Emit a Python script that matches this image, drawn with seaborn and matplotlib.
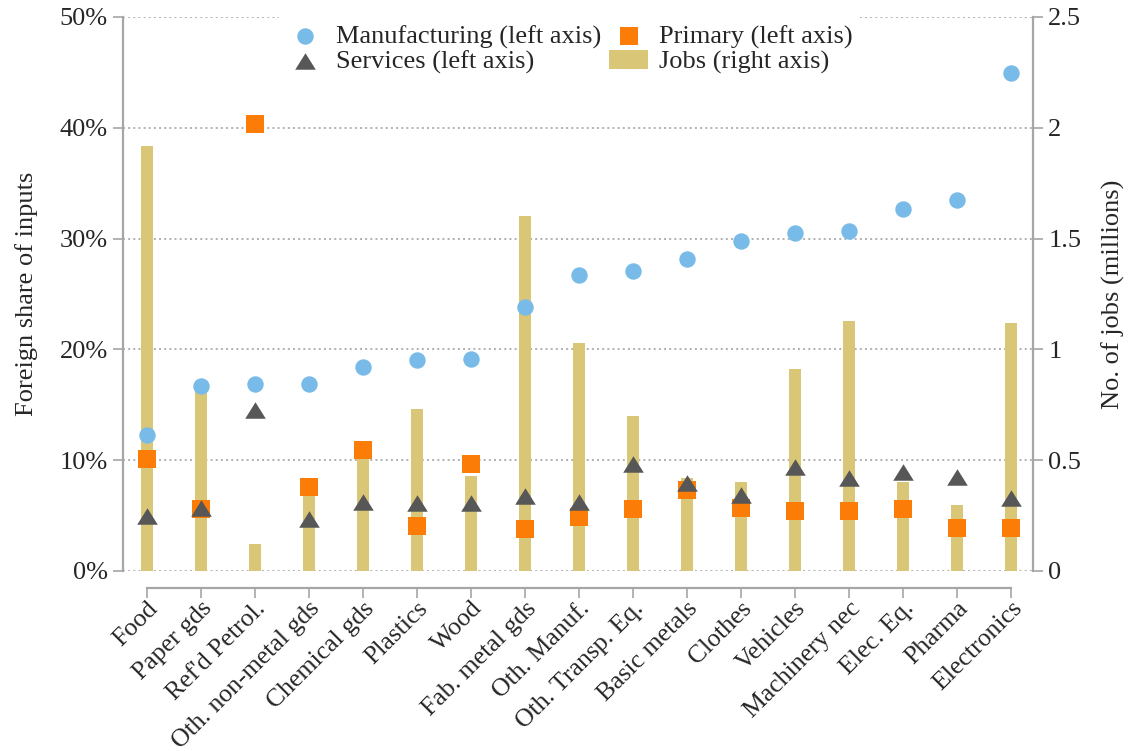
import pandas as pd
import seaborn as sns
import matplotlib.pyplot as plt
from matplotlib.patches import Patch

# sectors, ordered by manufacturing share
sectors = ["Food", "Paper gds", "Ref'd Petrol.", "Oth. non-metal gds", "Chemical gds",
           "Plastics", "Wood", "Fab. metal gds", "Oth. Manuf.", "Oth. Transp. Eq.",
           "Basic metals", "Clothes", "Vehicles", "Machinery nec", "Elec. Eq.",
           "Pharma", "Electronics"]

# foreign share of inputs (%), left axis
manufacturing = [12.3, 16.7, 16.9, 16.9, 18.4, 19.0, 19.1, 23.8, 26.7, 27.1,
                 28.2, 29.8, 30.5, 30.7, 32.7, 33.5, 44.9]
primary = [10.1, 5.6, 40.3, 7.6, 10.9, 4.1, 9.7, 3.8, 4.9, 5.6,
           7.3, 5.7, 5.4, 5.4, 5.6, 3.9, 3.9]
services = [5.0, 5.7, 14.5, 4.7, 6.2, 6.1, 6.1, 6.8, 6.2, 9.7,
            7.9, 6.9, 9.4, 8.4, 8.9, 8.5, 6.6]

# number of jobs (millions), right axis
jobs = [1.92, 0.82, 0.12, 0.42, 0.53, 0.73, 0.43, 1.60, 1.03, 0.70,
        0.42, 0.40, 0.91, 1.13, 0.40, 0.30, 1.12]

left_ticks = [0, 10, 20, 30, 40, 50]
left_labels = ["0%", "10%", "20%", "30%", "40%", "50%"]
right_ticks = [0, 0.5, 1, 1.5, 2, 2.5]
right_labels = ["0", "0.5", "1", "1.5", "2", "2.5"]

df = pd.DataFrame({"sector": sectors, "manuf": manufacturing, "primary": primary,
                   "services": services, "jobs": jobs})

sns.set_style("ticks")
plt.rcParams["font.family"] = ["Liberation Serif", "DejaVu Serif"]
plt.rcParams["font.size"] = 19

col_bar = "#d9c677"
col_blue = "#79bbe8"
col_orange = "#fb7d07"
col_tri = "#575757"
col_axis = "#a6a6a6"

fig = plt.figure(figsize=(11.29, 7.51), dpi=100)
ax = fig.add_axes([0.109, 0.2397, 0.806, 0.7377])
ax2 = ax.twinx()
ax.set_zorder(2)
ax2.set_zorder(1)
ax.patch.set_visible(False)

# jobs bars on the right axis
sns.barplot(data=df, x="sector", y="jobs", ax=ax2, color=col_bar, width=0.22,
            saturation=1, errorbar=None, linewidth=0)

# foreign shares on the left axis
tri = [(-1.25, -1), (1.25, -1), (0, 1)]
sns.scatterplot(data=df, x="sector", y="manuf", ax=ax, color=col_blue, marker="o",
                s=140, linewidth=0, label="Manufacturing (left axis)")
sns.scatterplot(data=df, x="sector", y="primary", ax=ax, color=col_orange, marker="s",
                s=150, linewidth=0, label="Primary (left axis)")
sns.scatterplot(data=df, x="sector", y="services", ax=ax, color=col_tri, marker=tri,
                s=220, linewidth=0, label="Services (left axis)")

ax.set_xlim(-0.44, 16.41)
ax.set_ylim(0, 50)
ax2.set_ylim(0, 2.5)

ax.set_yticks(left_ticks)
ax.set_yticklabels(left_labels)
ax2.set_yticks(right_ticks)
ax2.set_yticklabels(right_labels)

# dotted grid behind the bars
ax2.yaxis.grid(True, linestyle=":", color="#b0b0b0", linewidth=1.4)
ax2.set_axisbelow(True)
ax.grid(False)

for s in ["top", "right"]:
    ax.spines[s].set_visible(False)
for s in ["top", "left", "bottom"]:
    ax2.spines[s].set_visible(False)
ax.spines["left"].set_color(col_axis)
ax.spines["left"].set_linewidth(1.6)
ax.spines["bottom"].set_color(col_axis)
ax.spines["bottom"].set_linewidth(1.6)
ax.spines["bottom"].set_position(("outward", 12.5))
ax.spines["bottom"].set_bounds(0, 16)
ax2.spines["right"].set_color(col_axis)
ax2.spines["right"].set_linewidth(1.6)

ax.tick_params(axis="y", length=7, width=1.2, color=col_axis, pad=4)
ax2.tick_params(axis="y", length=7, width=1.2, color=col_axis, pad=4)
ax.tick_params(axis="x", length=7.5, width=1.2, color=col_axis, pad=-1,
               labelsize=18.5)
plt.setp(ax.get_xticklabels(), rotation=45, ha="right", rotation_mode="anchor")

ax.set_xlabel("")
ax2.set_xlabel("")
ax.set_ylabel("Foreign share of inputs")
ax2.set_ylabel("No. of jobs (millions)")
ax.yaxis.set_label_coords(-0.094, 0.5)
ax2.yaxis.set_label_coords(1.075, 0.5)

h, l = ax.get_legend_handles_labels()
handles = [h[0], h[2], h[1], Patch(facecolor=col_bar, edgecolor="none")]
labels = [l[0], l[2], l[1], "Jobs (right axis)"]
leg = ax.legend(handles, labels, ncol=2, loc="upper center",
                bbox_to_anchor=(0.49, 1.025), frameon=True, facecolor="white",
                edgecolor="none", framealpha=1, handlelength=1.5, handleheight=0.75,
                handletextpad=0.4, columnspacing=0.3, labelspacing=0.05,
                borderpad=0.3, scatterpoints=1)

fig.savefig("out.png", dpi=100)
